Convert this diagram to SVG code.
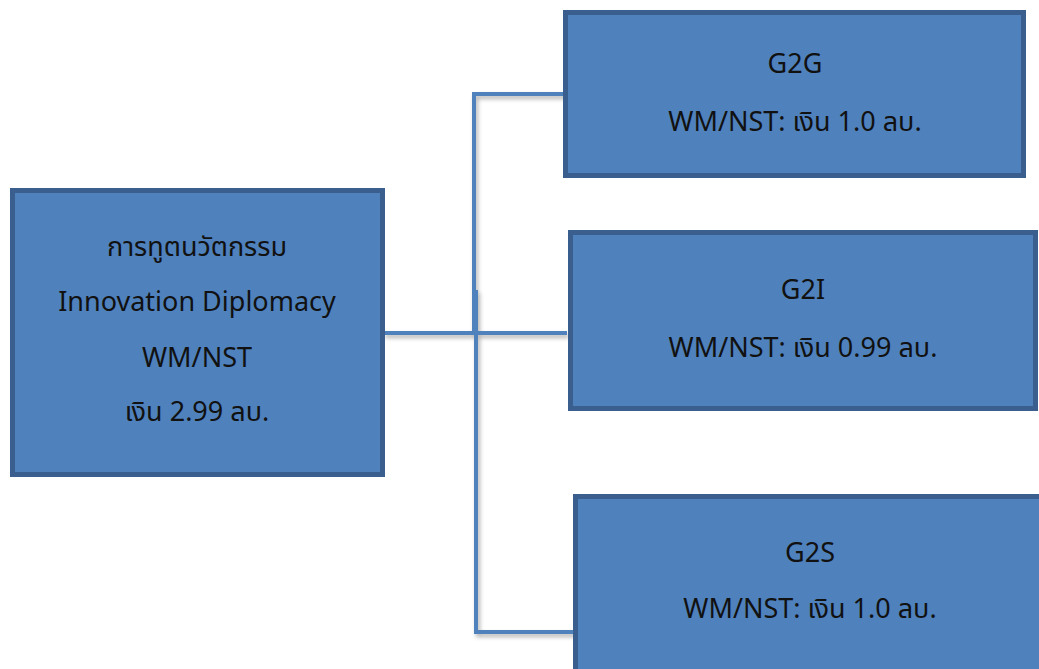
<svg xmlns="http://www.w3.org/2000/svg" width="1039" height="669" viewBox="0 0 1039 669">
<style>
.box{fill:#4f81bd;stroke:#3a5f8f;stroke-width:5}
.t{font-family:"Noto Sans","Noto Sans Thai","DejaVu Sans",sans-serif;font-size:27px;fill:#111;text-anchor:middle}
.c{stroke:#4f81bd;stroke-width:4;fill:none}
</style>
<defs>
<filter id="sh" x="-5%" y="-5%" width="110%" height="110%">
<feDropShadow dx="2" dy="3" stdDeviation="2" flood-color="#000" flood-opacity="0.3"/>
</filter>
</defs>
<g id="connectors" filter="url(#sh)">
<line class="c" x1="383" y1="333" x2="567" y2="333"/>
<polyline class="c" points="566,94 474,94 474,334"/>
<polyline class="c" points="474,292 476,292 476,632 575,632"/>
</g>
<g id="root">
<rect class="box" x="12.5" y="190.5" width="370" height="284"/>
<text class="t" x="197" y="256">การทูตนวัตกรรม</text>
<text class="t" x="197" y="311">Innovation Diplomacy</text>
<text class="t" x="197" y="367">WM/NST</text>
<text class="t" x="197" y="421">เงิน 2.99 ลบ.</text>
</g>
<g id="g2g">
<rect class="box" x="565.5" y="12.5" width="458" height="163"/>
<text class="t" x="795" y="73">G2G</text>
<text class="t" x="795" y="131">WM/NST: เงิน 1.0 ลบ.</text>
</g>
<g id="g2i">
<rect class="box" x="570.5" y="232.5" width="465" height="176"/>
<text class="t" x="803" y="299">G2I</text>
<text class="t" x="803" y="357">WM/NST: เงิน 0.99 ลบ.</text>
</g>
<g id="g2s">
<rect class="box" x="575.5" y="496.5" width="470" height="180"/>
<text class="t" x="810" y="562">G2S</text>
<text class="t" x="810" y="618">WM/NST: เงิน 1.0 ลบ.</text>
</g>
</svg>
